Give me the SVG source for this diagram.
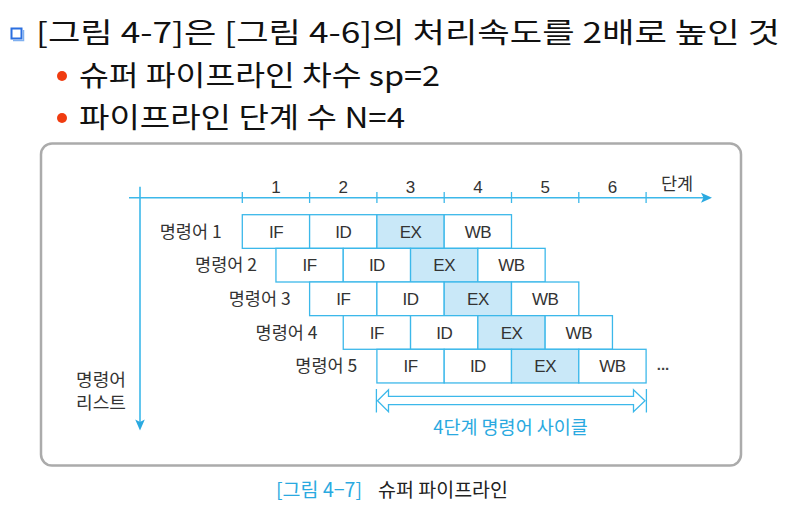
<svg xmlns="http://www.w3.org/2000/svg" width="803" height="510" viewBox="0 0 803 510">
<defs>
<style>
.kr{font-family:"Noto Sans CJK KR","Noto Sans",sans-serif}
.hd{font-size:28px;fill:#111}
.lbl{font-family:"Noto Sans CJK KR","Noto Sans",sans-serif;font-size:17.5px;fill:#333}
.num{font-family:"Liberation Sans","Noto Sans",sans-serif;font-size:17px;fill:#333;text-anchor:middle}
.cell{fill:#fff;stroke:#3cb8ea;stroke-width:1.3}
.ex{fill:#c9e8f8;stroke:#3cb8ea;stroke-width:1.3}
.ct{font-family:"Liberation Sans Narrow","Liberation Sans",sans-serif;font-size:17px;fill:#333;text-anchor:middle;letter-spacing:-0.5px}
.ax{stroke:#3cb8ea;stroke-width:1.6;fill:none}
.blue{fill:#2aa9e0}
</style>
</defs>
<rect width="803" height="510" fill="#fff"/>

<g id="header">
  <rect x="11.5" y="28.5" width="10" height="10" fill="#fff" stroke="#2b6fe0" stroke-width="2"/>
  <path d="M13 40.5 L23.5 40.5 L23.5 30" fill="none" stroke="#7fb0f0" stroke-width="1.5"/>
  <text class="kr hd" x="36" y="43" textLength="744" lengthAdjust="spacingAndGlyphs">[그림 4-7]은 [그림 4-6]의 처리속도를 2배로 높인 것</text>
  <circle cx="62" cy="76" r="5" fill="#f03c10"/>
  <text class="kr hd" x="79" y="86" textLength="361" lengthAdjust="spacingAndGlyphs">슈퍼 파이프라인 차수 sp=2</text>
  <circle cx="62" cy="118" r="5" fill="#f03c10"/>
  <text class="kr hd" x="79" y="128" textLength="326" lengthAdjust="spacingAndGlyphs">파이프라인 단계 수 N=4</text>
</g>

<g id="frame">
  <rect x="41" y="143.5" width="700" height="322" rx="11" fill="#fff" stroke="#ababab" stroke-width="2.5"/>
</g>

<g id="connectors">
  <line class="ax" x1="129" y1="197.7" x2="704" y2="197.7"/>
  <path d="M712 197.7 L701 192.7 L703.5 197.7 L701 202.7 Z" fill="#2aa9e0"/>
  <line class="ax" x1="140" y1="186.7" x2="140" y2="422"/>
  <path d="M140 430.5 L135.2 419.5 L140 422 L144.8 419.5 Z" fill="#2aa9e0"/>
  <g stroke="#3cb8ea" stroke-width="1.3">
    <line x1="242.3" y1="192" x2="242.3" y2="203"/>
    <line x1="309.6" y1="192" x2="309.6" y2="203"/>
    <line x1="376.9" y1="192" x2="376.9" y2="203"/>
    <line x1="444.2" y1="192" x2="444.2" y2="203"/>
    <line x1="511.5" y1="192" x2="511.5" y2="203"/>
    <line x1="578.8" y1="192" x2="578.8" y2="203"/>
    <line x1="646.1" y1="192" x2="646.1" y2="203"/>
  </g>
  <g id="cycle-arrow" stroke="#3cb8ea" stroke-width="1.3" fill="none">
    <line x1="376.4" y1="389" x2="376.4" y2="412.5"/>
    <line x1="646.4" y1="389" x2="646.4" y2="412.5"/>
    <path d="M377.5 400.7 L388.5 389.7 L388.5 396.4 L633.5 396.4 L633.5 389.7 L645 400.7 L633.5 411.7 L633.5 404.6 L388.5 404.6 L388.5 411.7 Z" fill="#fff"/>
  </g>
</g>

<g id="axis-labels">
  <text class="num" x="276" y="193">1</text>
  <text class="num" x="343.3" y="193">2</text>
  <text class="num" x="410.6" y="193">3</text>
  <text class="num" x="477.9" y="193">4</text>
  <text class="num" x="545.2" y="193">5</text>
  <text class="num" x="612.5" y="193">6</text>
  <text class="lbl" x="677" y="190" text-anchor="middle" font-size="19">단계</text>
  <text class="lbl" x="76" y="385.5" font-size="15.5" textLength="50" lengthAdjust="spacingAndGlyphs">명령어</text>
  <text class="lbl" x="76" y="408.5" font-size="15.5" textLength="50" lengthAdjust="spacingAndGlyphs">리스트</text>
</g>

<g id="instr1">
  <text class="lbl" x="221.7" y="237.6" text-anchor="end">명령어 1</text>
  <rect class="cell" x="242.3" y="214.7" width="67.3" height="33.65"/>
  <rect class="cell" x="309.6" y="214.7" width="67.3" height="33.65"/>
  <rect class="ex" x="376.9" y="214.7" width="67.3" height="33.65"/>
  <rect class="cell" x="444.2" y="214.7" width="67.3" height="33.65"/>
  <text class="ct" x="276" y="237.6">IF</text>
  <text class="ct" x="343.3" y="237.6">ID</text>
  <text class="ct" x="410.6" y="237.6">EX</text>
  <text class="ct" x="477.9" y="237.6">WB</text>
</g>

<g id="instr2">
  <text class="lbl" x="257" y="271.3" text-anchor="end">명령어 2</text>
  <rect class="cell" x="275.95" y="248.35" width="67.3" height="33.65"/>
  <rect class="cell" x="343.25" y="248.35" width="67.3" height="33.65"/>
  <rect class="ex" x="410.55" y="248.35" width="67.3" height="33.65"/>
  <rect class="cell" x="477.85" y="248.35" width="67.3" height="33.65"/>
  <text class="ct" x="309.6" y="271.3">IF</text>
  <text class="ct" x="376.9" y="271.3">ID</text>
  <text class="ct" x="444.2" y="271.3">EX</text>
  <text class="ct" x="511.5" y="271.3">WB</text>
</g>

<g id="instr3">
  <text class="lbl" x="290.7" y="304.9" text-anchor="end">명령어 3</text>
  <rect class="cell" x="309.6" y="282" width="67.3" height="33.65"/>
  <rect class="cell" x="376.9" y="282" width="67.3" height="33.65"/>
  <rect class="ex" x="444.2" y="282" width="67.3" height="33.65"/>
  <rect class="cell" x="511.5" y="282" width="67.3" height="33.65"/>
  <text class="ct" x="343.3" y="304.9">IF</text>
  <text class="ct" x="410.6" y="304.9">ID</text>
  <text class="ct" x="477.9" y="304.9">EX</text>
  <text class="ct" x="545.2" y="304.9">WB</text>
</g>

<g id="instr4">
  <text class="lbl" x="317.5" y="338.6" text-anchor="end">명령어 4</text>
  <rect class="cell" x="343.25" y="315.65" width="67.3" height="33.65"/>
  <rect class="cell" x="410.55" y="315.65" width="67.3" height="33.65"/>
  <rect class="ex" x="477.85" y="315.65" width="67.3" height="33.65"/>
  <rect class="cell" x="545.15" y="315.65" width="67.3" height="33.65"/>
  <text class="ct" x="376.9" y="338.6">IF</text>
  <text class="ct" x="444.2" y="338.6">ID</text>
  <text class="ct" x="511.5" y="338.6">EX</text>
  <text class="ct" x="578.8" y="338.6">WB</text>
</g>

<g id="instr5">
  <text class="lbl" x="357.3" y="372.2" text-anchor="end">명령어 5</text>
  <rect class="cell" x="376.9" y="349.3" width="67.3" height="33.65"/>
  <rect class="cell" x="444.2" y="349.3" width="67.3" height="33.65"/>
  <rect class="ex" x="511.5" y="349.3" width="67.3" height="33.65"/>
  <rect class="cell" x="578.8" y="349.3" width="67.3" height="33.65"/>
  <text class="ct" x="410.6" y="372.2">IF</text>
  <text class="ct" x="477.9" y="372.2">ID</text>
  <text class="ct" x="545.2" y="372.2">EX</text>
  <text class="ct" x="612.5" y="372.2">WB</text>
  <text x="663" y="370" font-family="Liberation Sans, sans-serif" font-size="15" font-weight="bold" fill="#444" text-anchor="middle">...</text>
</g>

<g id="cycle-label">
  <text class="kr blue" x="510.5" y="433.5" font-size="18.5" text-anchor="middle">4단계 명령어 사이클</text>
</g>

<g id="caption">
  <text class="kr blue" x="276" y="497" font-size="19.5" textLength="86" lengthAdjust="spacingAndGlyphs">[그림 4−7]</text>
  <text class="kr" x="378" y="497" font-size="19.5" fill="#222" textLength="130" lengthAdjust="spacingAndGlyphs">슈퍼 파이프라인</text>
</g>
</svg>
